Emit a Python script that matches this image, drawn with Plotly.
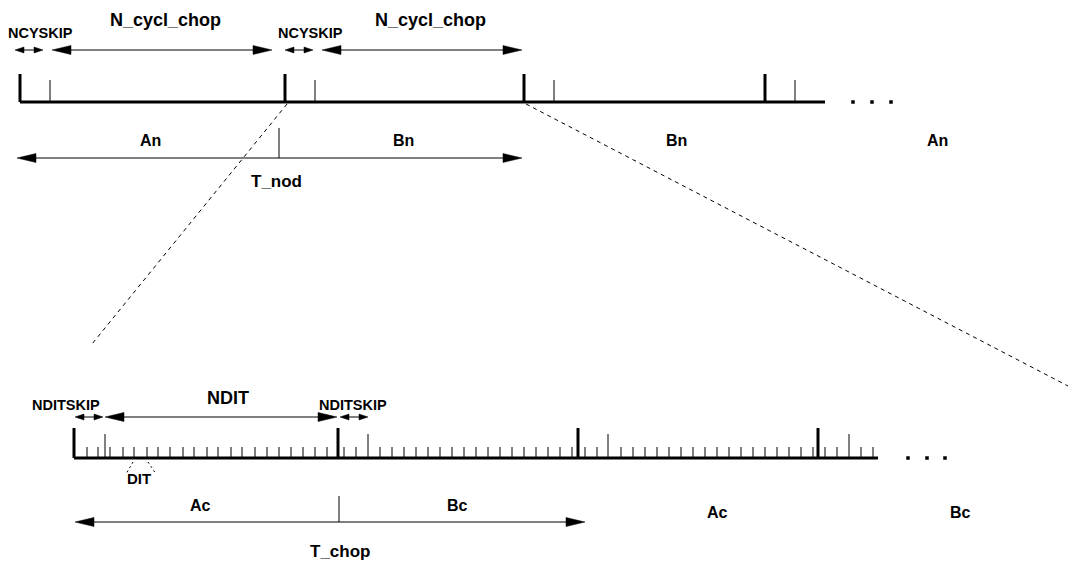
import plotly.graph_objects as go

W, H = 1068, 565

# ---------------- diagram definition (pixel units) ----------------
# top (nod) timeline
top_base_y = 102
top_line = [20, 825]
top_big_ticks = [20, 285, 524, 765]
top_small_ticks = [50, 315, 554, 795]
top_dots = [853, 872, 891]

# bottom (chop) timeline
bot_base_y = 458
bot_line = [74, 878]
bot_big_ticks = [74, 338, 578, 818]
bot_tall_ticks = [105, 368, 608, 849]
bot_minor_ticks = [87, 98, 110, 123, 134, 147, 158, 170, 183, 194, 207, 218, 231, 242,
                   255, 267, 279, 291, 303, 315, 327,
                   344, 356, 380, 392, 404, 416, 428, 440, 452, 464, 476, 488, 500,
                   512, 524, 536, 548, 560, 572,
                   585, 597, 621, 633, 645, 657, 669, 681, 693, 705, 717, 729, 741,
                   753, 765, 777, 789, 801, 813,
                   825, 837, 861, 873]
bot_dots = [908, 927, 945]

# dimension arrows: (x0, x1, y, size)  size: 'big' or 'small'
arrows = [
    (15, 43, 50, 'small'), (52, 272, 50, 'big'),
    (285, 313, 50, 'small'), (322, 522, 50, 'big'),
    (17, 522, 158, 'big'),
    (75, 103, 417, 'small'), (105, 337, 417, 'big'), (340, 368, 417, 'small'),
    (75, 585, 522, 'big'),
]
# vertical separators on dimension arrows
separators = [(279, 128, 158), (339, 496, 522)]

# zoom (dashed) lines
zoom_lines = [((287, 104), (92, 344)), ((526, 104), (1068, 386))]
dit_lines = [((133, 462), (126, 474)), ((148, 462), (156, 474))]

labels = [
    ("NCYSKIP", 40, 33, 14.5), ("N_cycl_chop", 165, 20, 18),
    ("NCYSKIP", 310, 33, 14.5), ("N_cycl_chop", 430, 20, 18),
    ("An", 150, 140, 16), ("Bn", 403, 140, 16), ("T_nod", 276, 181, 17),
    ("Bn", 676, 140, 16), ("An", 937, 140, 16),
    ("NDITSKIP", 66, 405, 14.5), ("NDIT", 228, 398, 18), ("NDITSKIP", 353, 405, 14.5),
    ("DIT", 139, 478, 15),
    ("Ac", 200, 505, 16), ("Bc", 457, 505, 16), ("T_chop", 340, 551, 17),
    ("Ac", 717, 512, 16), ("Bc", 960, 512, 16),
]

# ---------------- build figure ----------------
shapes = []

def line(x0, y0, x1, y1, w=1, dash=None):
    d = dict(type="line", xref="x", yref="y", x0=x0, y0=y0, x1=x1, y1=y1,
             line=dict(color="black", width=w))
    if dash:
        d["line"]["dash"] = dash
    shapes.append(d)

def tri(xtip, y, direction, length, half):
    xb = xtip - direction * length
    path = f"M {xtip},{y} L {xb},{y - half} L {xb},{y + half} Z"
    shapes.append(dict(type="path", xref="x", yref="y", path=path,
                       fillcolor="black", line=dict(color="black", width=0.5)))

# top timeline
line(top_line[0], top_base_y, top_line[1], top_base_y, w=3)
for x in top_big_ticks:
    line(x, top_base_y, x, 74, w=3)
for x in top_small_ticks:
    line(x, top_base_y, x, 80, w=1)

# bottom timeline
line(bot_line[0], bot_base_y, bot_line[1], bot_base_y, w=3)
for x in bot_big_ticks:
    line(x, bot_base_y, x, 428, w=3)
for x in bot_tall_ticks:
    line(x, bot_base_y, x, 434, w=1)
for x in bot_minor_ticks:
    line(x, bot_base_y, x, 447, w=1)

# arrows
for x0, x1, y, kind in arrows:
    if kind == 'big':
        L, hh = 19, 4.5
    else:
        L, hh = 9, 3
    line(x0 + L - 1, y, x1 - L + 1, y, w=1)
    tri(x0, y, -1, L, hh)
    tri(x1, y, 1, L, hh)

for x, y0, y1 in separators:
    line(x, y0, x, y1, w=1)

for (a, b) in zoom_lines:
    line(a[0], a[1], b[0], b[1], w=1, dash="4px,4px")
for (a, b) in dit_lines:
    line(a[0], a[1], b[0], b[1], w=1, dash="2px,3px")

fig = go.Figure()
fig.add_trace(go.Scatter(x=top_dots + bot_dots,
                         y=[top_base_y] * len(top_dots) + [bot_base_y] * len(bot_dots),
                         mode="markers", marker=dict(symbol="square", size=3.5, color="black"),
                         hoverinfo="skip", showlegend=False))

annotations = []
for text, x, y, size in labels:
    annotations.append(dict(x=x, y=y, xref="x", yref="y", text=f"<b>{text}</b>",
                            showarrow=False, xanchor="center", yanchor="middle",
                            font=dict(family="Liberation Sans, Arial, sans-serif",
                                      size=size, color="black")))

fig.update_layout(
    width=W, height=H, margin=dict(l=0, r=0, t=0, b=0),
    paper_bgcolor="white", plot_bgcolor="white",
    xaxis=dict(range=[0, W], visible=False, fixedrange=True),
    yaxis=dict(range=[H, 0], visible=False, fixedrange=True),
    shapes=shapes, annotations=annotations, showlegend=False,
)
fig.write_html("out.html", config={"displayModeBar": False},
               post_script="document.body.style.margin='0';document.body.style.overflow='hidden';")
